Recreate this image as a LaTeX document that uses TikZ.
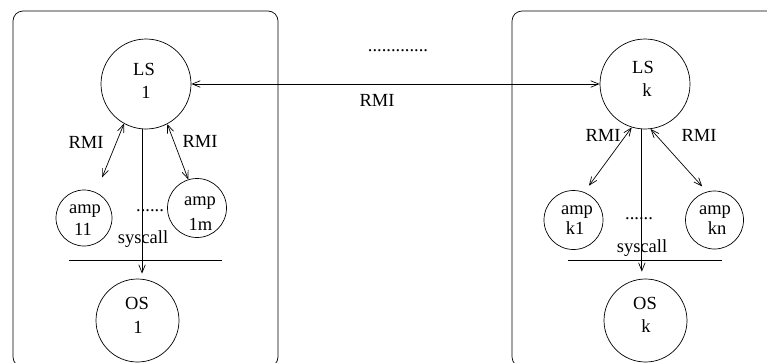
\documentclass[tikz,border=0pt]{standalone}
\usepackage{fontspec}
\setmainfont{Liberation Serif}
\usetikzlibrary{arrows.meta}
\begin{document}
\begin{tikzpicture}[x=1pt,y=-1pt,
  every node/.style={font=\fontsize{18.5}{22}\selectfont, inner sep=0pt},
  circ/.style={draw, circle, minimum size=#1, line width=0.7pt},
  txt/.style={anchor=base},
  conn/.style={line width=0.7pt},
  barb/.tip={Straight Barb[length=8pt,width=6.5pt]},
  rmi/.style={conn, barb-barb},
  sys/.style={conn, -barb},
  frame/.style={draw, line width=0.7pt, rounded corners=10pt}]
\useasboundingbox (0,0) rectangle (767,362);
\clip (0,0) rectangle (767,362);
% frames
\draw[frame] (13,11) rectangle (278,367);
\draw[frame] (512,11) rectangle (790,367);
% circles
\node[circ=90pt] (LS1) at (146,84) {};
\node[circ=56pt] (amp11) at (84,218) {};
\node[circ=59pt] (amp1m) at (197,208) {};
\node[circ=83pt] (OS1) at (137.5,320.5) {};
\node[circ=90pt] (LSk) at (645,84) {};
\node[circ=59pt] (ampk1) at (573.5,220) {};
\node[circ=58pt] (ampkn) at (714.5,220) {};
\node[circ=83pt] (OSk) at (645.5,320.5) {};
% circle texts
\node[txt] (LS1a) at (144,75) {LS};
\node[txt] (LS1b) at (146,98) {1};
\node[txt] (amp11a) at (85,213) {amp};
\node[txt] (amp11b) at (83,235) {11};
\node[txt] (amp1ma) at (200,205) {amp};
\node[txt] (amp1mb) at (200.5,230) {1m};
\node[txt] (OS1a) at (137,309) {OS};
\node[txt] (OS1b) at (138,333) {1};
\node[txt] (LSka) at (643,73) {LS};
\node[txt] (LSkb) at (647,96) {k};
\node[txt] (ampk1a) at (577,214) {amp};
\node[txt] (ampk1b) at (575,234) {k1};
\node[txt] (ampkna) at (715,214) {amp};
\node[txt] (ampknb) at (717,234) {kn};
\node[txt] (OSka) at (645,309) {OS};
\node[txt] (OSkb) at (646,332) {k};
% connectors
\draw[rmi] (LS1) -- (LSk);
\draw[rmi, shorten >=16pt] (LS1.-119) -- (amp11.65);
\draw[rmi] (LS1.-62) -- (amp1m.107);
\draw[sys, shorten >=5pt] (LS1.-95) -- (LS1.-95 |- OS1.north);
\draw[rmi, shorten >=8pt] (LSk.-107) -- (ampk1.69);
\draw[rmi, shorten >=7pt] (LSk.-83) -- (ampkn.105);
\draw[sys, shorten >=7pt] (LSk.-94) -- (LSk.-94 |- OSk.north);
% separators
\draw[conn] (69,260) -- (222,260);
\draw[conn] (568,260) -- (722,260);
% labels
\node (rmiL1) at (86,142) {RMI};
\node (rmiR1) at (200,141) {RMI};
\node (rmiLk) at (603,135) {RMI};
\node (rmiRk) at (699,135) {RMI};
\node (rmiTop) at (377,100) {RMI};
\node[txt] (dotsTop) at (398,51.5) {.............};
\node[txt] (dots1) at (150,211) {......};
\node[txt] (dotsk) at (639,219.5) {......};
\node[txt] (sys1) at (143,243) {syscall};
\node[txt] (sysk) at (642,252) {syscall};
\end{tikzpicture}
\end{document}
